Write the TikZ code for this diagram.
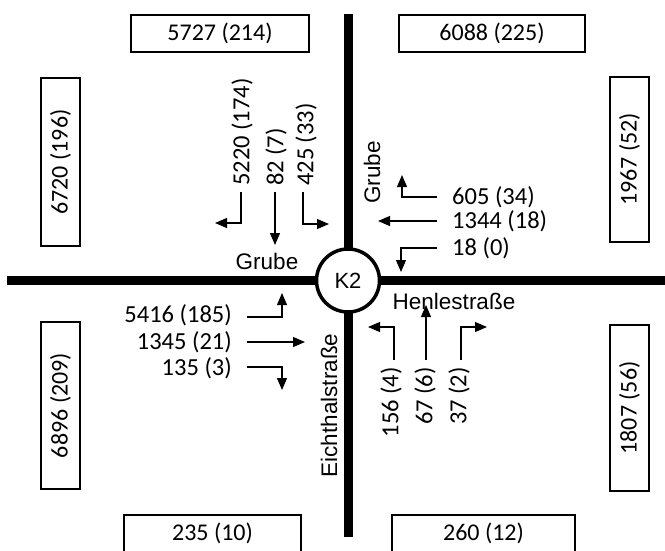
\documentclass[tikz,border=0pt]{standalone}
\usepackage{fontspec}
\setmainfont{Liberation Sans}
\newfontfamily\numfont{Carlito}
\usetikzlibrary{arrows.meta}
\begin{document}
\begin{tikzpicture}[x=1pt,y=-1pt,
  lbl/.style={inner sep=0pt, font=\numfont\fontsize{24.5}{27}\selectfont},
  street/.style={inner sep=0pt, font=\fontsize{22.5}{25}\selectfont},
  box/.style={draw, line width=2.2pt, inner sep=0pt, font=\numfont\fontsize{24}{27}\selectfont},
  hbox/.style={box, minimum width=178pt, minimum height=37pt},
  vbox/.style={box, rotate=90, minimum width=168pt, minimum height=39pt},
  road/.style={line width=9pt},
  arr/.style={line width=1.1pt, -{Triangle[length=12pt,width=10pt]}},
]
\useasboundingbox (0,0) rectangle (665,550);
\clip (0,0) rectangle (665,550);
% roads
\coordinate (rt) at (348,14);
\coordinate (rb) at (348,537);
\coordinate (rl) at (7,280.5);
\coordinate (rr) at (670,280.5);
\draw[road] (rt) -- (rb);
\draw[road] (rl) -- (rr);
\node[circle, draw, line width=3.5pt, fill=white, minimum size=63pt, inner sep=0pt,
      font=\fontsize{22}{25}\selectfont] (k2) at (348,280.5) {K2};
% count boxes
\node[hbox] (btl) at (220,33.5) {5727 (214)};
\node[hbox, minimum width=186pt] (btr) at (492,33.5) {6088 (225)};
\node[vbox, minimum width=168pt] (bl1) at (60.5,162) {6720 (196)};
\node[vbox, minimum width=165pt] (br1) at (629.5,159.5) {1967 (52)};
\node[vbox, minimum width=167pt] (bl2) at (60.5,405.5) {6896 (209)};
\node[vbox, minimum width=166pt] (br2) at (629.5,408) {1807 (56)};
\node[hbox, minimum width=177pt] (bbl) at (212.5,533.5) {235 (10)};
\node[hbox, minimum width=183pt] (bbr) at (483.5,533.5) {260 (12)};
% street names
\node[street] (gw) at (267,261) {Grube};
\node[street, rotate=90] (gn) at (372,172.5) {Grube};
\node[street] (he) at (454,301) {Henlestraße};
\node[street, rotate=90] (ei) at (329,405.5) {Eichthalstraße};
% north approach
\node[lbl, rotate=90, anchor=west] (n1) at (242,186) {5220 (174)};
\node[lbl, rotate=90, anchor=west] (n2) at (276,186) {82 (7)};
\node[lbl, rotate=90, anchor=west] (n3) at (306,186) {425 (33)};
\draw[arr] ([shift={(-1,6)}]n1.west) |- ++(-26,31);
\draw[arr] ([shift={(-1,6)}]n2.west) -- ++(0,53);
\draw[arr] ([shift={(-3,6)}]n3.west) |- ++(26,32);
% east approach
\node[lbl, anchor=west] (e1) at (452,197) {605 (34)};
\node[lbl, anchor=west] (e2) at (452,221) {1344 (18)};
\node[lbl, anchor=west] (e3) at (452,248) {18 (0)};
\draw[arr] ([shift={(-15,0)}]e1.west) -| ++(-35,-22);
\draw[arr] ([shift={(-15,0)}]e2.west) -- ++(-59,0);
\draw[arr] ([shift={(-15,0)}]e3.west) -| ++(-36,24);
% west approach
\node[lbl, anchor=east] (w1) at (232,315) {5416 (185)};
\node[lbl, anchor=east] (w2) at (232,342) {1345 (21)};
\node[lbl, anchor=east] (w3) at (232,368) {135 (3)};
\draw[arr] ([shift={(15,2)}]w1.east) -| ++(35,-24);
\draw[arr] ([shift={(15,0)}]w2.east) -- ++(58,0);
\draw[arr] ([shift={(15,-1)}]w3.east) -| ++(35,23);
% south approach
\node[lbl, rotate=90, anchor=east] (s1) at (391,367) {156 (4)};
\node[lbl, rotate=90, anchor=east] (s2) at (425,367) {67 (6)};
\node[lbl, rotate=90, anchor=east] (s3) at (459,367) {37 (2)};
\draw[arr] ([shift={(3,-7)}]s1.east) |- ++(-26,-33);
\draw[arr] ([shift={(1,-7)}]s2.east) -- ++(0,-55);
\draw[arr] ([shift={(2,-7)}]s3.east) |- ++(26,-33);
\end{tikzpicture}
\end{document}
